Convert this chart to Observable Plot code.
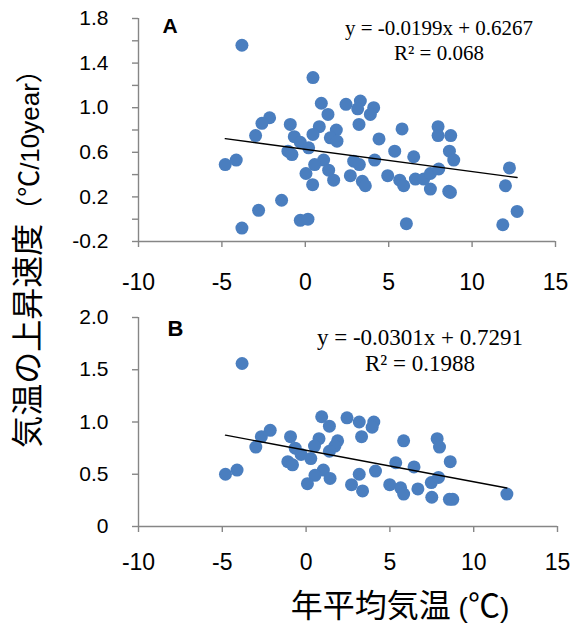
<!DOCTYPE html>
<html><head><meta charset="utf-8">
<script src="https://cdn.jsdelivr.net/npm/d3@7"></script>
<script src="https://cdn.jsdelivr.net/npm/@observablehq/plot@0.6"></script>
<style>
body{margin:0;background:#fff;}
#wrap{position:relative;width:571px;height:630px;overflow:hidden;font-family:"Liberation Sans",Arial,"Noto Sans CJK JP",sans-serif;color:#000;}
#wrap svg{position:absolute;left:0;}
.cj{font-family:"Noto Sans CJK JP",sans-serif;font-size:32px;}
.cj2{font-family:"Noto Sans CJK JP",sans-serif;font-size:27px;}
.ytitle{position:absolute;left:26px;top:252px;transform:translate(-50%,-50%) rotate(-90deg);font-size:26px;white-space:nowrap;line-height:1;}
.xtitle{position:absolute;left:400px;top:604px;transform:translate(-50%,-50%);font-size:28px;white-space:nowrap;line-height:1;}
</style></head><body>
<div id="wrap">
  <div class="ytitle"><span class="cj">気温の上昇速度</span><span class="cj2">（℃</span>/10year<span class="cj2">）</span></div>
  <div class="xtitle"><span class="cj">年平均気温</span> (<span class="cj">℃</span>)</div>
</div>
<script>
// Panel A data
const xA = [-3.8,0.46,0.96,2.44,3.3,3.14,4.1,3.9,1.36,-2.14,-2.6,-2.98,-0.9,0.84,0.46,3.22,1.86,1.5,1.9,-0.66,-0.3,0.2,4.42,5.8,7.96,7.96,8.72,8.64,8.9,-1.04,-0.8,1.1,0.56,0.04,1.4,1.7,0.44,2.9,3.24,2.7,3.42,3.6,4.16,5.36,6.5,4.94,5.66,5.9,6.6,7.1,7.5,8.0,7.5,8.6,8.7,-4.8,-4.14,12.24,12.0,-1.42,-2.8,-3.8,-0.3,0.16,6.06,11.84,12.7];
const yA = [1.56,1.27,1.04,1.03,1.06,0.99,1.00,0.94,0.94,0.91,0.86,0.75,0.85,0.83,0.76,0.85,0.80,0.73,0.70,0.74,0.69,0.64,0.72,0.81,0.83,0.75,0.75,0.61,0.53,0.61,0.58,0.53,0.49,0.41,0.44,0.35,0.31,0.52,0.49,0.39,0.34,0.30,0.53,0.61,0.56,0.39,0.35,0.30,0.36,0.36,0.41,0.45,0.27,0.25,0.24,0.49,0.53,0.46,0.30,0.17,0.08,-0.08,-0.01,0.00,-0.04,-0.05,0.07];
// Panel B data
const xB = [-3.82,0.93,2.44,3.17,4.04,3.94,1.39,-2.14,-2.67,-0.93,0.77,3.31,1.88,0.5,-3.0,1.72,1.39,-0.65,-0.3,0.28,5.82,7.82,7.96,8.6,5.35,6.44,-1.09,-0.81,1.03,0.53,0.08,1.43,3.17,4.14,2.71,3.37,4.99,5.64,5.82,6.67,7.47,7.9,7.5,8.55,8.75,-4.81,-4.12,11.98];
const yB = [1.56,1.05,1.04,1.00,1.00,0.95,0.96,0.92,0.86,0.86,0.84,0.86,0.82,0.77,0.76,0.77,0.72,0.75,0.69,0.65,0.82,0.84,0.76,0.62,0.61,0.57,0.62,0.59,0.54,0.49,0.41,0.46,0.50,0.53,0.40,0.34,0.40,0.37,0.31,0.36,0.42,0.47,0.28,0.26,0.26,0.50,0.54,0.31];

// Regression equations shown on the chart
const slopes = [-0.0199, -0.0301];
const intercepts = [0.6267, 0.7291];
const eqTexts = ["y = -0.0199x + 0.6267\nR² = 0.068", "y = -0.0301x + 0.7291\nR² = 0.1988"];
const tags = ["A", "B"];

// Axes
const xDomain = [-10, 15];
const xTicks = [-10, -5, 0, 5, 10, 15];
const yDomainA = [-0.2, 1.8];
const yTicksA = [-0.2, 0, 0.2, 0.4, 0.6, 0.8, 1.0, 1.2, 1.4, 1.6, 1.8];
const yLabelsA = [-0.2, 0.2, 0.6, 1.0, 1.4, 1.8];
const yDomainB = [0, 2.0];
const yTicksB = [0, 0.5, 1.0, 1.5, 2.0];
const yLabelsB = [0, 0.5, 1.0, 1.5, 2.0];

const AXIS = "#868686";
const DOT = "#4a7ebf";

function panel(xs, ys, o) {
  const pts = xs.map((x, i) => ({x, y: ys[i]}));
  const ext = d3.extent(xs);
  const trend = ext.map(x => ({x, y: o.slope * x + o.intercept}));
  return Plot.plot({
    width: 571, height: o.height,
    marginLeft: 138, marginRight: o.mr, marginTop: o.mt, marginBottom: o.mb,
    x: {domain: xDomain},
    y: {domain: o.yDomain},
    style: {fontFamily: '"Liberation Sans", Arial, sans-serif', color: "#000", background: "transparent", overflow: "visible"},
    marks: [
      Plot.ruleY([o.yDomain[0]], {stroke: AXIS, strokeWidth: 1.4}),
      Plot.ruleX([xDomain[0]], {stroke: AXIS, strokeWidth: 1.4}),
      Plot.axisX({ticks: xTicks, tickSize: 6, tickPadding: o.xPad, fontSize: 23, stroke: AXIS, strokeWidth: 1.4, label: null, tickFormat: d => String(d)}),
      Plot.axisY({ticks: o.yTicks, tickSize: 6, tickFormat: () => "", stroke: AXIS, strokeWidth: 1.4, label: null}),
      Plot.axisY({ticks: o.yLabels, tickSize: 0, tickPadding: 30, fontSize: 21, label: null, tickFormat: o.fmt}),
      Plot.dot(pts, {x: "x", y: "y", r: 6.5, fill: DOT, stroke: null}),
      Plot.line(trend, {x: "x", y: "y", stroke: "#000", strokeWidth: 1.3}),
      Plot.text([o.eq], {text: d => d, frameAnchor: "top", dx: o.eqDx, dy: o.eqDy, textAnchor: "middle", lineAnchor: "top", fontFamily: '"Liberation Serif", "Times New Roman", serif', fontSize: o.eqSize, lineHeight: o.lh}),
      Plot.text([o.tag], {text: d => d, frameAnchor: "top-left", dx: o.tagDx, dy: o.tagDy, textAnchor: "start", lineAnchor: "top", fontWeight: "bold", fontSize: o.tagSize})
    ]
  });
}

const wrap = document.getElementById("wrap");
const svgA = panel(xA, yA, {
  height: 300, mr: 16, mt: 18, mb: 59, xPad: 26,
  yDomain: yDomainA, yTicks: yTicksA, yLabels: yLabelsA, fmt: d => d.toFixed(1),
  slope: slopes[0], intercept: intercepts[0], eq: eqTexts[0], eqDx: 92, eqDy: -1, eqSize: 21, lh: 1.19,
  tag: tags[0], tagDx: 24, tagDy: 0, tagSize: 21
});
svgA.style.top = "0px";
wrap.appendChild(svgA);
const svgB = panel(xB, yB, {
  height: 270, mr: 14, mt: 17, mb: 44, xPad: 21,
  yDomain: yDomainB, yTicks: yTicksB, yLabels: yLabelsB, fmt: d => d === 0 ? "0" : d.toFixed(1),
  slope: slopes[1], intercept: intercepts[1], eq: eqTexts[1], eqDx: 72, eqDy: 10, eqSize: 23, lh: 1.1,
  tag: tags[1], tagDx: 29, tagDy: 3, tagSize: 22
});
svgB.style.top = "300px";
wrap.appendChild(svgB);
</script>
</body></html>
